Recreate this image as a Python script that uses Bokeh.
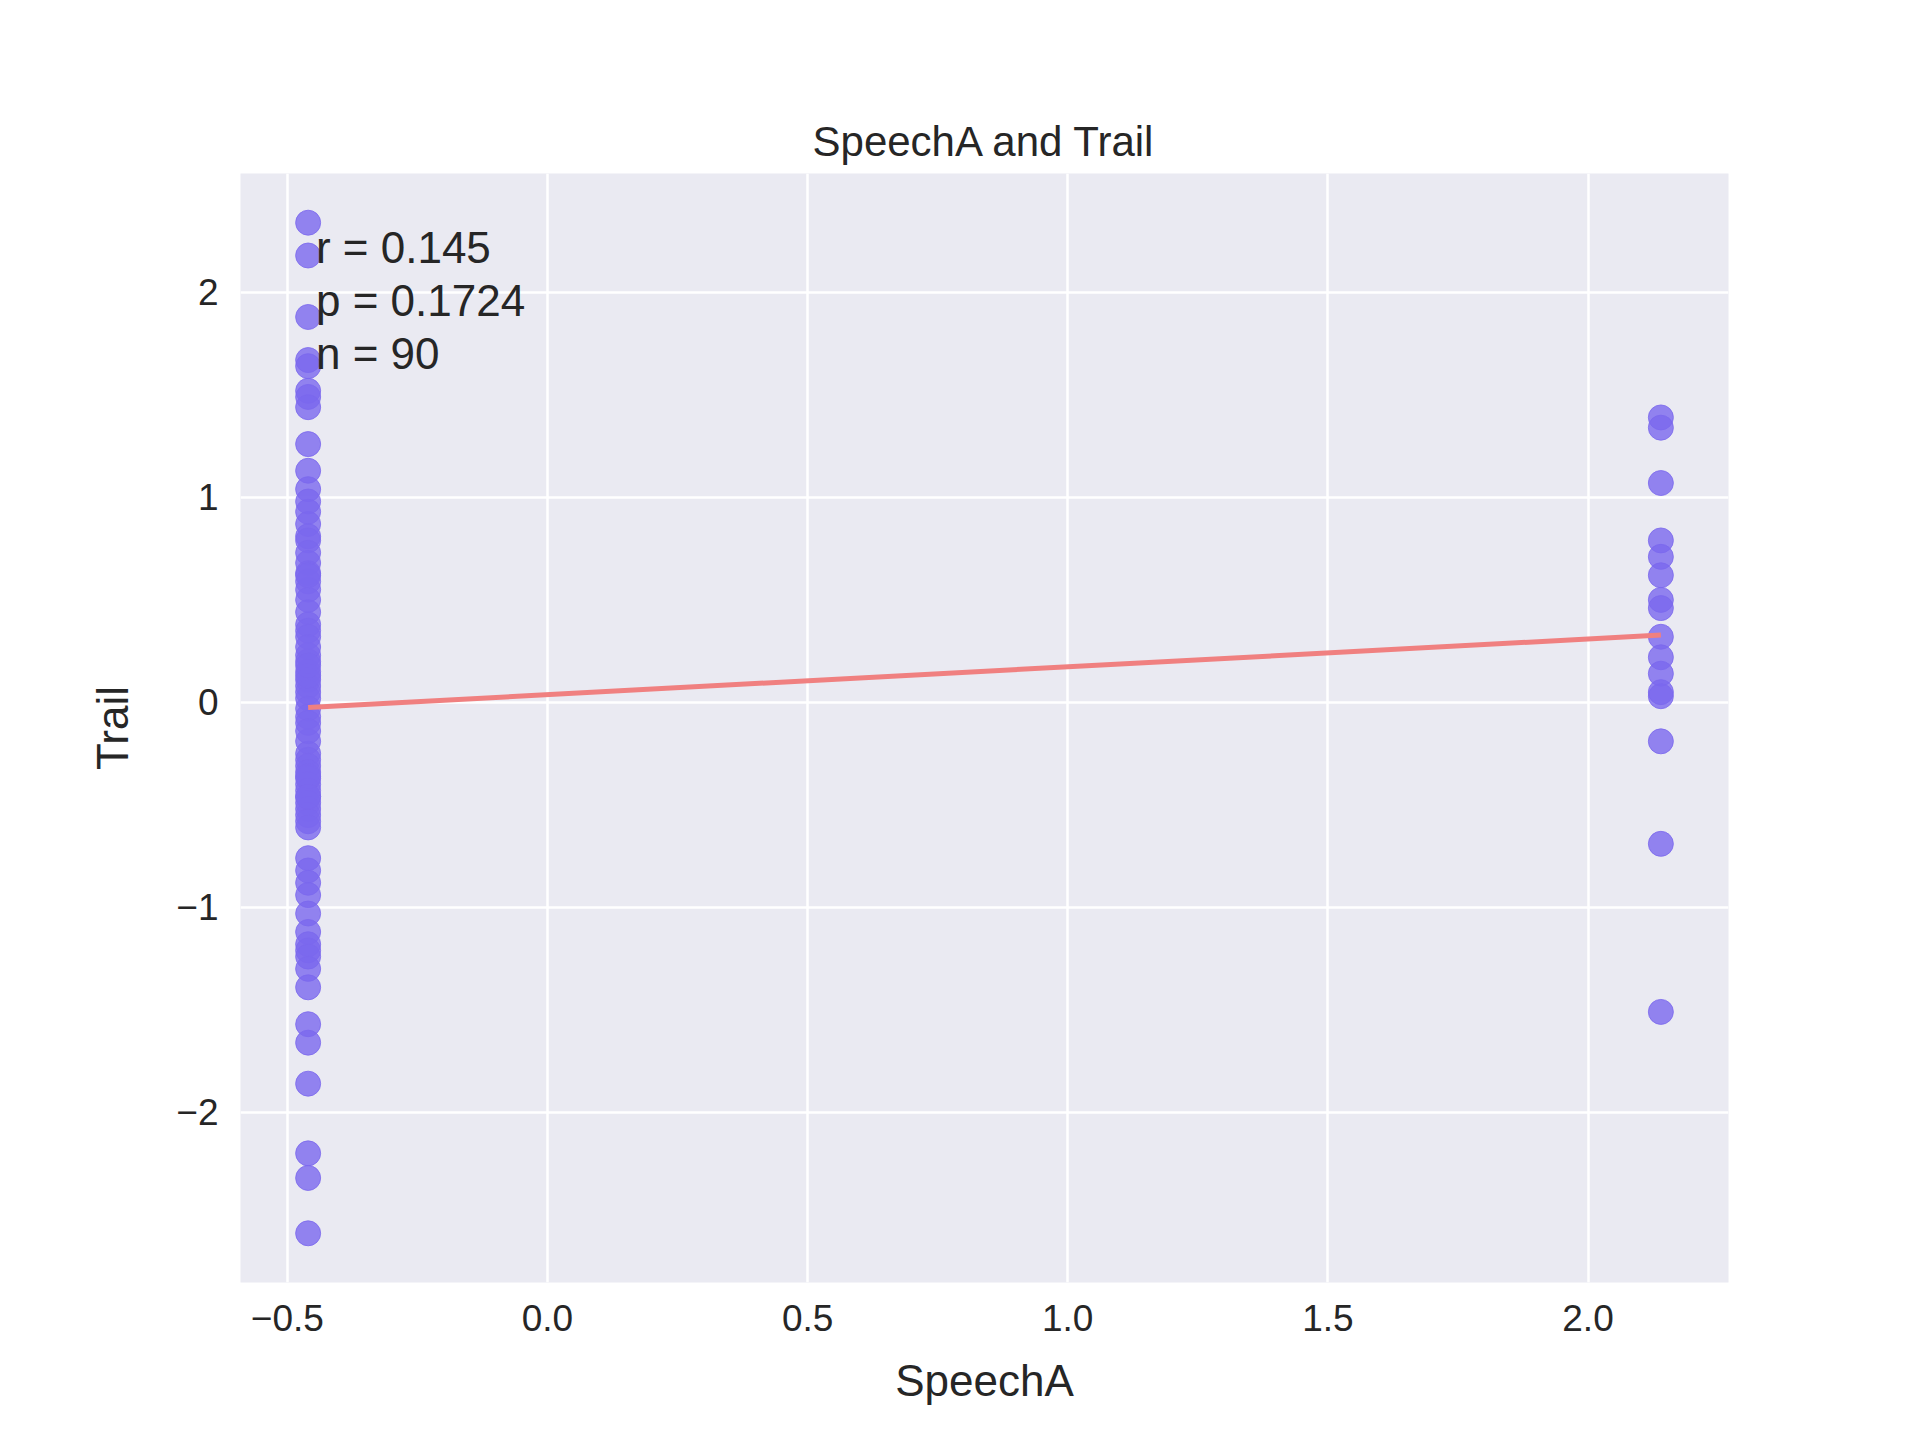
import numpy as np
from bokeh.plotting import figure
from bokeh.models import Range1d, FixedTicker
from bokeh.core.properties import value
from bokeh.embed import file_html
from bokeh.resources import INLINE

x_groups = [-0.46, 2.14]

trail_low = [2.34, 2.18, 1.88, 1.67, 1.64, 1.52, 1.49, 1.44, 1.26, 1.13, 1.04, 0.98, 0.93,
             0.87, 0.81, 0.79, 0.73, 0.68, 0.63, 0.59, 0.55, 0.50, 0.44, 0.38, 0.35, 0.32,
             0.23, 0.20, 0.15, 0.11, 0.08, 0.05, 0.02, -0.03, -0.07, -0.10, -0.19, -0.25,
             -0.28, -0.31, -0.34, -0.37, -0.40, -0.43, -0.46, -0.49, -0.52, -0.55, -0.58,
             -0.61, -0.76, -0.82, -0.88, -0.94, -1.03, -1.12, -1.18, -1.21, -1.24, -1.30,
             -1.39, -1.57, -1.66, -1.86, -2.20, -2.32, -2.59, 0.27, 0.13, -0.14, -0.36,
             0.62, 0.18, -0.46]
trail_high = [1.39, 1.34, 1.07, 0.79, 0.71, 0.62, 0.50, 0.46, 0.32, 0.22, 0.14, 0.05,
              0.03, -0.19, -0.69, -1.51]

stats_lines = ["r = 0.145", "p = 0.1724", "n = 90"]

xs = [x_groups[0]] * len(trail_low) + [x_groups[1]] * len(trail_high)
ys = trail_low + trail_high
slope, icpt = np.polyfit(xs, ys, 1)

FONT = "Liberation Sans"

p = figure(width=1904, height=1424, output_backend="svg", toolbar_location=None,
           x_range=Range1d(-0.59, 2.27), y_range=Range1d(-2.83, 2.58),
           title="SpeechA and Trail", x_axis_label="SpeechA", y_axis_label="Trail",
           min_border_left=240, min_border_right=176, min_border_top=173, min_border_bottom=142)
p.title.align = "center"
p.title.text_font = FONT
p.title.text_font_size = "42px"
p.title.text_font_style = "normal"
p.title.text_color = "#262626"
p.title.standoff = 18
p.background_fill_color = "#EAEAF2"
p.border_fill_color = "white"
p.outline_line_color = None
p.grid.grid_line_color = "white"
p.grid.grid_line_width = 2.5
p.xaxis.ticker = FixedTicker(ticks=[-0.5, 0.0, 0.5, 1.0, 1.5, 2.0])
p.yaxis.ticker = FixedTicker(ticks=[-2, -1, 0, 1, 2])
p.xaxis.major_label_overrides = {-0.5: "−0.5", 0: "0.0", 0.5: "0.5", 1: "1.0", 1.5: "1.5", 2: "2.0"}
p.yaxis.major_label_overrides = {-2: "−2", -1: "−1"}
for ax in (p.xaxis, p.yaxis):
    ax.axis_line_color = None
    ax.major_tick_line_color = None
    ax.minor_tick_line_color = None
    ax.major_label_text_font = FONT
    ax.major_label_text_font_size = "37px"
    ax.major_label_text_color = "#262626"
    ax.axis_label_text_font = FONT
    ax.axis_label_text_font_size = "44px"
    ax.axis_label_text_font_style = "normal"
    ax.axis_label_text_color = "#262626"
p.xaxis.major_label_standoff = 16
p.xaxis.axis_label_standoff = 22
p.yaxis.major_label_standoff = 16
p.yaxis.axis_label_standoff = 36

p.scatter(xs, ys, size=25, fill_color="#7B68EE", line_color="#7B68EE", alpha=0.8)
lx = np.array(x_groups)
p.line(lx, slope * lx + icpt, line_color="#F08080", line_width=5)

p.text(x=[-0.445] * 3, y=[2.22, 1.96, 1.70], text=stats_lines, text_baseline="middle",
       text_align="left", text_font=value(FONT), text_font_size="44px",
       text_color="#262626")

open("out.html", "w").write(file_html(p, INLINE))
